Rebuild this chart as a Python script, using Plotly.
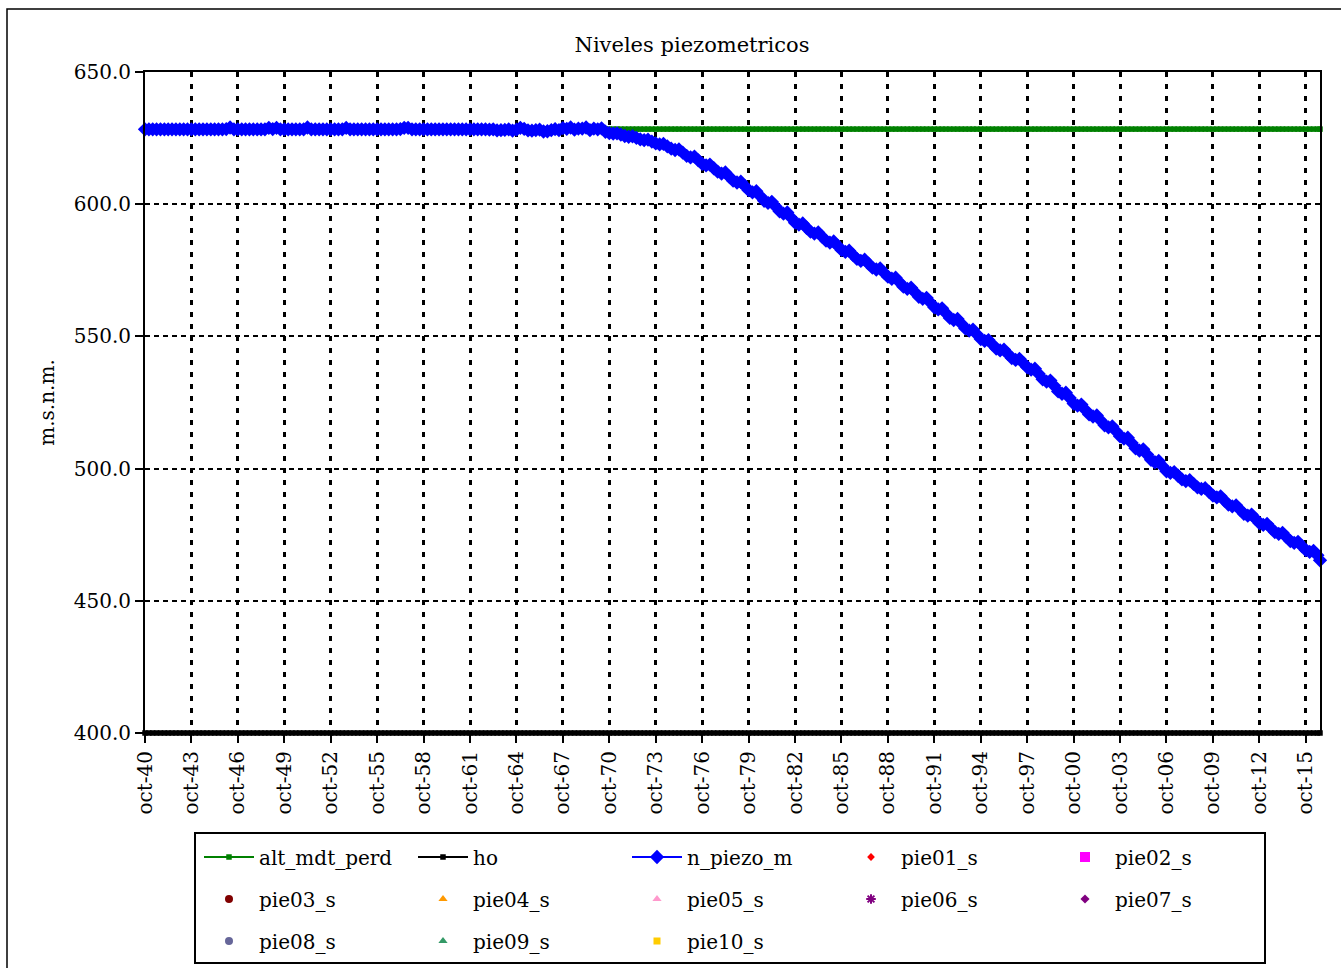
import pandas as pd
import plotly.graph_objects as go

# ---------------- data ----------------
# quarterly readings (oct, jan, apr, jul) per hydrological year 1940-2015, then sep-2016
n_piezo_m = [
    628.3, 628.3, 628.3, 628.3,  # 1940
    628.3, 628.3, 628.3, 628.3,  # 1941
    628.3, 628.3, 628.3, 628.3,  # 1942
    628.3, 628.3, 628.3, 628.3,  # 1943
    628.3, 628.3, 628.3, 628.3,  # 1944
    628.3, 628.4, 629.0, 628.3,  # 1945
    628.3, 628.3, 628.3, 628.3,  # 1946
    628.3, 628.3, 628.3, 628.3,  # 1947
    628.9, 628.4, 628.9, 628.3,  # 1948
    628.3, 628.3, 628.3, 628.3,  # 1949
    628.3, 628.3, 629.0, 628.3,  # 1950
    628.3, 628.3, 628.3, 628.3,  # 1951
    628.3, 628.3, 628.3, 628.3,  # 1952
    628.9, 628.3, 628.3, 628.3,  # 1953
    628.3, 628.3, 628.3, 628.3,  # 1954
    628.3, 628.3, 628.3, 628.3,  # 1955
    628.3, 628.3, 628.4, 628.9,  # 1956
    628.9, 628.3, 628.3, 628.3,  # 1957
    628.3, 628.3, 628.3, 628.3,  # 1958
    628.3, 628.3, 628.3, 628.3,  # 1959
    628.3, 628.3, 628.3, 628.3,  # 1960
    628.3, 628.3, 628.3, 628.3,  # 1961
    628.3, 628.2, 628.3, 627.9,  # 1962
    628.0, 628.1, 628.3, 627.8,  # 1963
    628.2, 628.9, 628.5, 627.9,  # 1964
    627.8, 628.0, 628.2, 627.5,  # 1965
    627.6, 628.0, 628.4, 628.0,  # 1966
    628.8, 628.5, 629.0, 628.2,  # 1967
    628.6, 628.6, 629.0, 628.0,  # 1968
    628.6, 628.3, 628.7, 627.4,  # 1969
    626.9, 626.7, 626.8, 626.3,  # 1970
    625.8, 625.5, 625.7, 625.1,  # 1971
    624.5, 624.2, 624.4, 623.7,  # 1972
    623.0, 622.6, 622.8, 621.9,  # 1973
    621.0, 620.5, 620.7, 619.5,  # 1974
    618.3, 617.7, 618.0, 616.6,  # 1975
    615.3, 614.7, 615.0, 613.6,  # 1976
    612.3, 611.6, 612.0, 610.4,  # 1977
    608.9, 608.2, 608.5, 606.9,  # 1978
    605.3, 604.5, 604.9, 603.1,  # 1979
    601.3, 600.5, 600.9, 599.1,  # 1980
    597.3, 596.4, 596.9, 594.9,  # 1981
    593.0, 592.3, 592.7, 591.1,  # 1982
    589.6, 588.9, 589.3, 587.7,  # 1983
    586.2, 585.5, 585.9, 584.3,  # 1984
    582.7, 582.0, 582.4, 580.8,  # 1985
    579.3, 578.6, 579.0, 577.5,  # 1986
    576.0, 575.3, 575.7, 574.1,  # 1987
    572.6, 571.8, 572.2, 570.5,  # 1988
    568.8, 568.0, 568.4, 566.7,  # 1989
    565.0, 564.2, 564.6, 562.8,  # 1990
    561.0, 560.2, 560.6, 558.8,  # 1991
    557.0, 556.2, 556.6, 554.8,  # 1992
    553.0, 552.2, 552.6, 550.8,  # 1993
    549.0, 548.3, 548.6, 547.0,  # 1994
    545.4, 544.7, 545.0, 543.4,  # 1995
    541.8, 541.1, 541.5, 539.9,  # 1996
    538.3, 537.4, 537.8, 535.8,  # 1997
    533.8, 532.9, 533.3, 531.3,  # 1998
    529.2, 528.3, 528.7, 526.7,  # 1999
    524.6, 523.8, 524.2, 522.3,  # 2000
    520.5, 519.7, 520.1, 518.2,  # 2001
    516.4, 515.6, 516.0, 514.1,  # 2002
    512.2, 511.3, 511.7, 509.7,  # 2003
    507.7, 506.8, 507.3, 505.3,  # 2004
    503.3, 502.4, 502.9, 500.9,  # 2005
    499.0, 498.4, 498.7, 497.3,  # 2006
    495.9, 495.3, 495.6, 494.2,  # 2007
    492.9, 492.3, 492.6, 491.2,  # 2008
    489.8, 489.1, 489.5, 487.9,  # 2009
    486.4, 485.7, 486.1, 484.5,  # 2010
    482.9, 482.2, 482.6, 481.0,  # 2011
    479.4, 478.7, 479.1, 477.5,  # 2012
    476.0, 475.3, 475.7, 474.1,  # 2013
    472.6, 471.9, 472.3, 470.7,  # 2014
    469.2, 468.5, 468.9, 467.2,  # 2015
    465.3,                       # sep-2016
]
dates = list(pd.date_range("1940-10-01", periods=304, freq="3MS")) + [pd.Timestamp("2016-09-01")]

alt_mdt_perd_level = 628.4
ho_level = 400.0
alt_mdt_perd = [alt_mdt_perd_level] * len(dates)
ho = [ho_level] * len(dates)

tick_years = list(range(1940, 2016, 3))
tick_labels = ["oct-40", "oct-43", "oct-46", "oct-49", "oct-52", "oct-55", "oct-58",
               "oct-61", "oct-64", "oct-67", "oct-70", "oct-73", "oct-76", "oct-79",
               "oct-82", "oct-85", "oct-88", "oct-91", "oct-94", "oct-97", "oct-00",
               "oct-03", "oct-06", "oct-09", "oct-12", "oct-15"]
tick_vals = [f"{y}-10-01" for y in tick_years]

# ---------------- figure ----------------
FONT = "DejaVu Serif"
W, H = 1341, 968
L, R, T, B = 145, 21, 72, 235
pw, ph = W - L - R, H - T - B


def px(x):
    return (x - L) / pw


def py(y):
    return (H - B - y) / ph


fig = go.Figure()
fig.add_trace(go.Scatter(x=dates, y=alt_mdt_perd, name="alt_mdt_perd", mode="lines+markers",
                         line=dict(color="#008000", width=2),
                         marker=dict(symbol="square", size=5.5, color="#008000"),
                         cliponaxis=False, legend="legend"))
fig.add_trace(go.Scatter(x=dates, y=ho, name="ho", mode="lines+markers",
                         line=dict(color="#000000", width=2),
                         marker=dict(symbol="square", size=5.5, color="#000000"),
                         cliponaxis=False, legend="legend"))
fig.add_trace(go.Scatter(x=dates, y=n_piezo_m, name="n_piezo_m", mode="lines+markers",
                         line=dict(color="#0000FF", width=2),
                         marker=dict(symbol="diamond", size=11, color="#0000FF"),
                         cliponaxis=False, legend="legend"))

pies = [
    ("pie01_s", "diamond", "#FF0000", 6, "legend"),
    ("pie02_s", "square", "#FF00FF", 10, "legend"),
    ("pie03_s", "circle", "#800000", 8, "legend2"),
    ("pie04_s", "triangle-up", "#FF9900", 8, "legend2"),
    ("pie05_s", "triangle-up", "#FF99CC", 8, "legend2"),
    ("pie06_s", "asterisk-open", "#800080", 8, "legend2"),
    ("pie07_s", "diamond", "#800080", 7, "legend2"),
    ("pie08_s", "circle", "#666699", 8, "legend3"),
    ("pie09_s", "triangle-up", "#339966", 8, "legend3"),
    ("pie10_s", "square", "#FFCC00", 7, "legend3"),
]
for name, sym, col, sz, lg in pies:
    mk = dict(symbol=sym, size=sz, color=col)
    if sym.endswith("open"):
        mk["line"] = dict(color=col, width=2)
    fig.add_trace(go.Scatter(x=[None], y=[None], name=name, mode="markers",
                             marker=mk, legend=lg))

leg_common = dict(orientation="h", xanchor="left", yanchor="middle",
                  font=dict(family=FONT, size=20, color="black"),
                  bgcolor="rgba(0,0,0,0)", borderwidth=0,
                  itemwidth=50, entrywidth=149, entrywidthmode="pixels",
                  traceorder="normal", itemclick=False)
lx = px(199)

fig.update_layout(
    width=W, height=H,
    margin=dict(l=L, r=R, t=T, b=B, pad=0, autoexpand=False),
    paper_bgcolor="white", plot_bgcolor="white",
    font=dict(family=FONT, size=20, color="black"),
    title=dict(text="Niveles piezometricos", x=692 / W, xref="container", xanchor="center",
               y=1 - 45 / H, yref="container", yanchor="middle",
               font=dict(family=FONT, size=21, color="black")),
    legend=dict(x=lx, y=py(857), **leg_common),
    legend2=dict(x=lx, y=py(899), **leg_common),
    legend3=dict(x=lx, y=py(941), **leg_common),
    showlegend=True,
)

fig.update_xaxes(
    type="date", range=["1940-10-01", "2016-09-01"],
    tickmode="array", tickvals=tick_vals, ticktext=tick_labels, tickangle=-90,
    tickfont=dict(family=FONT, size=20, color="black"),
    ticks="outside", ticklen=8, tickwidth=2, tickcolor="black",
    showline=True, linecolor="black", linewidth=2, mirror=True,
    showgrid=True, gridcolor="black", gridwidth=2.5, griddash="5px,7px",
    zeroline=False, automargin=False,
)
fig.update_yaxes(
    range=[400, 650], tick0=400, dtick=50, tickformat=".1f",
    tickfont=dict(family=FONT, size=20, color="black"),
    ticks="outside", ticklen=8, tickwidth=2, tickcolor="black",
    showline=True, linecolor="black", linewidth=2, mirror=True,
    showgrid=True, gridcolor="black", gridwidth=2, griddash="5px,4px",
    zeroline=False, automargin=False,
    title=dict(text="m.s.n.m.", font=dict(family=FONT, size=20, color="black"), standoff=14),
)

# legend frame and outer chart frame
fig.add_shape(type="rect", xref="paper", yref="paper",
              x0=px(195), x1=px(1265), y0=py(963), y1=py(833),
              line=dict(color="black", width=2), fillcolor="rgba(0,0,0,0)", layer="above")
fig.add_shape(type="rect", xref="paper", yref="paper",
              x0=px(7), x1=px(1360), y0=py(990), y1=py(9),
              line=dict(color="black", width=1.5), fillcolor="rgba(0,0,0,0)", layer="above")

fig.write_html("out.html", config={"displayModeBar": False},
               post_script="document.body.style.margin='0';document.body.style.overflow='hidden';")
